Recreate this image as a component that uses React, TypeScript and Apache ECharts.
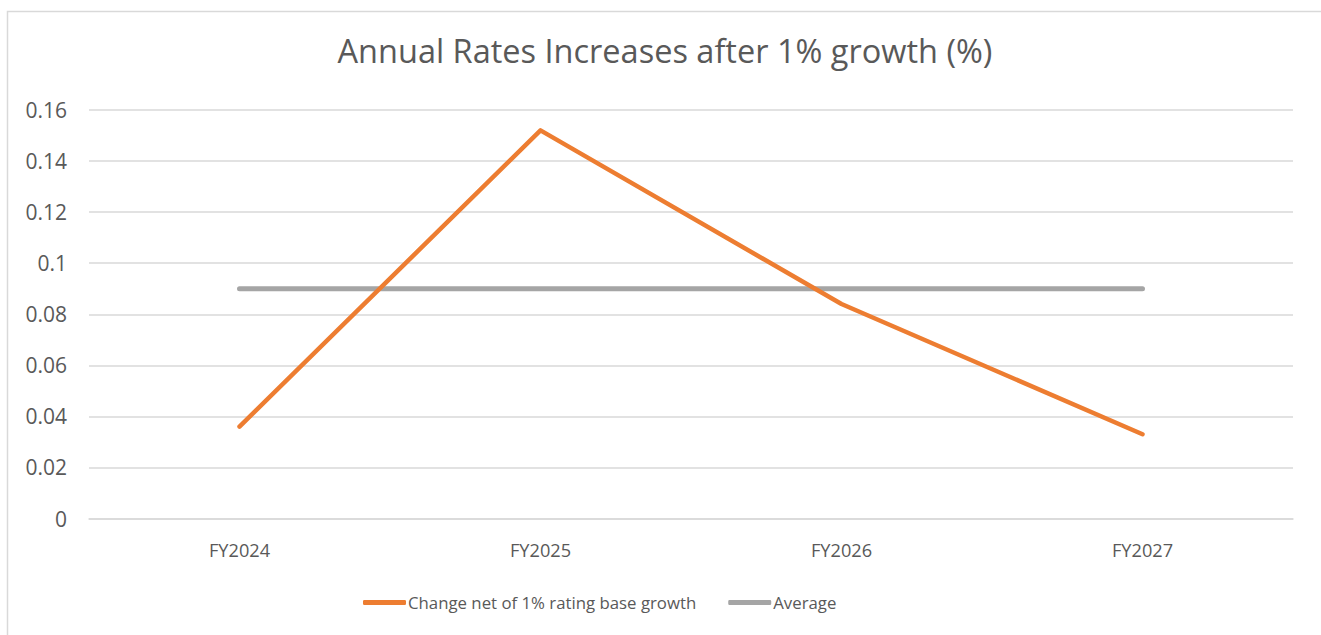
import React, { useEffect, useRef } from "react";
import * as echarts from "echarts";

const categories = ["FY2024", "FY2025", "FY2026", "FY2027"];
const changeNet = [0.036, 0.152, 0.084, 0.033];
const average = [0.09, 0.09, 0.09, 0.09];
const seriesNames = ["Change net of 1% rating base growth", "Average"];
const titleText = "Annual Rates Increases after 1% growth (%)";

export default function App() {
  const ref = useRef<HTMLDivElement>(null);
  useEffect(() => {
    document.body.style.margin = "0";
    const chart = echarts.init(ref.current!, undefined, { renderer: "svg" });
    const font = "'Open Sans', sans-serif";
    chart.setOption({
      animation: false,
      backgroundColor: "#ffffff",
      textStyle: { fontFamily: font },
      title: {
        text: titleText,
        left: 660,
        textAlign: "center",
        top: 29,
        textStyle: { fontFamily: font, fontSize: 32.5, fontWeight: "normal", color: "#595959" },
      },
      graphic: [
        {
          type: "rect",
          shape: { x: 7.5, y: 11.5, width: 1330, height: 640 },
          style: { fill: "none", stroke: "#d9d9d9", lineWidth: 1.5 },
          silent: true,
        },
      ],
      legend: {
        left: 363,
        top: 594,
        padding: 0,
        itemWidth: 43,
        itemHeight: 5,
        itemGap: 32,
        icon: "roundRect",
        textStyle: { fontFamily: font, fontSize: 16.8, color: "#595959", padding: [0, 0, 0, -3] },
        data: seriesNames,
      },
      grid: { left: 89, right: 28, top: 110, bottom: 116.5, containLabel: false },
      xAxis: {
        type: "category",
        data: categories,
        boundaryGap: true,
        axisLine: { show: true, lineStyle: { color: "#d9d9d9", width: 1.5 } },
        axisTick: { show: false },
        axisLabel: { color: "#595959", fontSize: 18.2, fontFamily: font, margin: 22 },
      },
      yAxis: {
        type: "value",
        min: 0,
        max: 0.16,
        interval: 0.02,
        axisLine: { show: false },
        axisTick: { show: false },
        splitLine: { lineStyle: { color: "#d9d9d9", width: 1.5 } },
        axisLabel: { color: "#595959", fontSize: 21, fontFamily: font, margin: 22 },
      },
      series: [
        {
          name: seriesNames[0],
          type: "line",
          data: changeNet,
          showSymbol: false,
          symbol: "none",
          itemStyle: { color: "#ED7D31" },
          lineStyle: { color: "#ED7D31", width: 4.5, cap: "round", join: "round" },
          z: 3,
        },
        {
          name: seriesNames[1],
          type: "line",
          data: average,
          showSymbol: false,
          symbol: "none",
          itemStyle: { color: "#A5A5A5" },
          lineStyle: { color: "#A5A5A5", width: 5, cap: "round" },
          z: 2,
        },
      ],
    });
    return () => chart.dispose();
  }, []);
  return <div ref={ref} style={{ width: 1321, height: 635 }} />;
}
